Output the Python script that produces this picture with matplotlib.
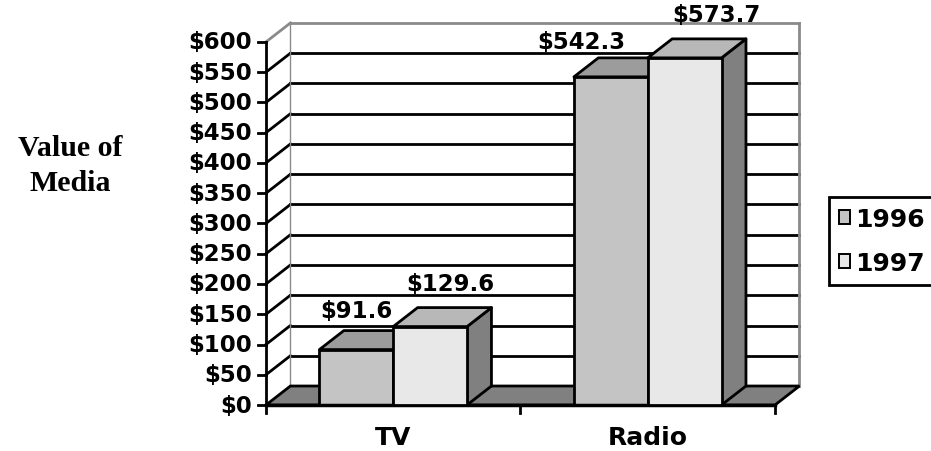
import matplotlib.pyplot as plt
from matplotlib.patches import Polygon, Patch

# data
categories = ['TV', 'Radio']
years = ['1996', '1997']
values_1996 = [91.6, 542.3]
values_1997 = [129.6, 573.7]
y_ticks = list(range(0, 650, 50))

# look
FRONT = ['#c4c4c4', '#e8e8e8']
TOP = ['#9c9c9c', '#b8b8b8']
SIDE = '#808080'
FLOOR = '#808080'
WALL_EDGE = '#8a8a8a'
BAR_W = 0.29
DX, DY = 0.096, 31.4          # oblique depth in data units
LW = 2.0
# pixel nudges of the value labels (x, y above the bar's back top)
LABEL_NUDGE = [[(0, 14), (20, 18)], [(-30, 10), (32, 18)]]

fig = plt.figure(figsize=(9.31, 4.52), dpi=100)
ax = fig.add_axes([0, 0, 1, 1])
ax.set_xlim(-1.045, 2.613)
ax.set_ylim(-76, 671)
ax.axis('off')

n = len(categories)
ymax = y_ticks[-1]

# back wall and left wall
ax.add_patch(Polygon([(DX, DY), (n + DX, DY), (n + DX, ymax + DY), (DX, ymax + DY)],
                     closed=True, facecolor='white', edgecolor='none', zorder=1))
ax.add_patch(Polygon([(0, 0), (DX, DY), (DX, ymax + DY), (0, ymax)],
                     closed=True, facecolor='white', edgecolor='none', zorder=1))
for v in y_ticks[1:]:
    c = WALL_EDGE if v == ymax else 'black'
    ax.plot([DX, n + DX], [v + DY, v + DY], color=c, lw=LW, zorder=2)
    ax.plot([0, DX], [v, v + DY], color=c, lw=LW, zorder=2)
ax.plot([DX, DX], [DY, ymax + DY], color=WALL_EDGE, lw=1, zorder=2)
ax.plot([n + DX, n + DX], [DY, ymax + DY], color=WALL_EDGE, lw=LW, zorder=2)

# floor
ax.add_patch(Polygon([(0, 0), (n, 0), (n + DX, DY), (DX, DY)], closed=True,
                     facecolor=FLOOR, edgecolor='black', lw=LW, zorder=3))

# front value axis
ax.plot([0, 0], [0, ymax], color='black', lw=LW, zorder=4)
for v in y_ticks:
    ax.plot([-0.032, 0], [v, v], color='black', lw=LW, zorder=4)
    ax.annotate(f'${v}', (0, v), xytext=(-14, 0), textcoords='offset pixels',
                ha='right', va='center', fontsize=16.5, fontweight='bold')

# category axis
ax.plot([0, n], [0, 0], color='black', lw=LW + 0.5, zorder=6)
for i in range(n + 1):
    ax.plot([i, i], [0, -13], color='black', lw=LW, zorder=6)
for i, cat in enumerate(categories):
    ax.annotate(cat, (i + 0.5, 0), xytext=(0, -39), textcoords='offset pixels',
                ha='center', va='baseline', fontsize=18, fontweight='bold')

# bars
series = [values_1996, values_1997]
for i in range(n):
    for s, vals in enumerate(series):
        v = vals[i]
        x0 = i + 0.5 - BAR_W + s * BAR_W
        x1 = x0 + BAR_W
        z = 5 + s
        ax.add_patch(Polygon([(x1, 0), (x1 + DX, DY), (x1 + DX, v + DY), (x1, v)],
                             closed=True, facecolor=SIDE, edgecolor='black', lw=LW,
                             joinstyle='round', zorder=z))
        ax.add_patch(Polygon([(x0, v), (x1, v), (x1 + DX, v + DY), (x0 + DX, v + DY)],
                             closed=True, facecolor=TOP[s], edgecolor='black', lw=LW,
                             joinstyle='round', zorder=z))
        ax.add_patch(Polygon([(x0, 0), (x1, 0), (x1, v), (x0, v)],
                             closed=True, facecolor=FRONT[s], edgecolor='black', lw=LW,
                             joinstyle='round', zorder=z))
        nx, ny = LABEL_NUDGE[i][s]
        ax.annotate(f'${v:.1f}', ((x0 + x1) / 2, v + DY), xytext=(nx, ny),
                    textcoords='offset pixels', ha='center', va='baseline',
                    fontsize=16.5, fontweight='bold', zorder=10)

# axis title
fig.text(70 / 931, 1 - 166 / 452, 'Value of\nMedia', ha='center', va='center',
         family='Liberation Serif', fontweight='bold', fontsize=21.5, linespacing=1.4)

# legend
handles = [Patch(facecolor=FRONT[k], edgecolor='black', lw=1.4) for k in range(len(years))]
leg = fig.legend(handles, years, loc='upper left', bbox_to_anchor=(829 / 931, 1 - 198 / 452),
                 frameon=True, fancybox=False, edgecolor='black', framealpha=1,
                 prop={'size': 18, 'weight': 'bold'}, handlelength=0.45, handleheight=0.45,
                 handletextpad=0.2, labelspacing=0.8, borderpad=0.4, borderaxespad=0)
leg.get_frame().set_linewidth(2.0)

fig.savefig('out.png', dpi=100)
